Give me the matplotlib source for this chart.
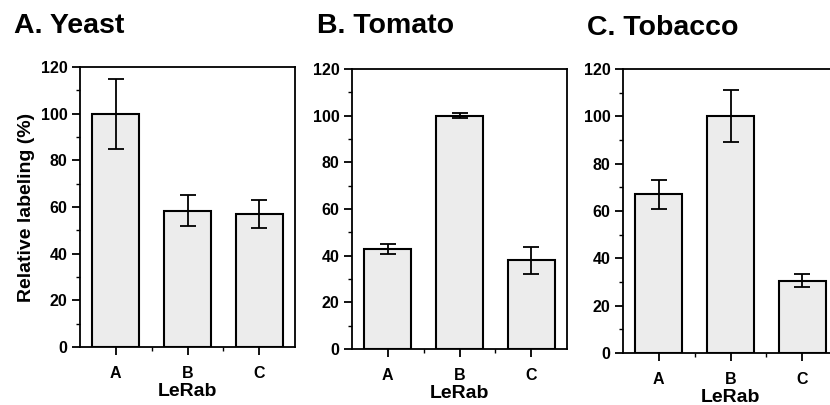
import matplotlib
matplotlib.use("Agg")
import matplotlib.pyplot as plt
from matplotlib.ticker import MultipleLocator, FixedLocator

plt.rcParams['font.family'] = ['Liberation Sans', 'DejaVu Sans']
plt.rcParams['font.weight'] = 'bold'

# data
categories = ["A", "B", "C"]
titles = ["A. Yeast", "B. Tomato", "C. Tobacco"]
yeast = [100, 58.5, 57]
yeast_err = [15, 6.5, 6]
tomato = [43, 100, 38]
tomato_err = [2.2, 1, 5.8]
tobacco = [67, 100, 30.5]
tobacco_err = [6, 11, 2.7]

values = [yeast, tomato, tobacco]
errors = [yeast_err, tomato_err, tobacco_err]

W, H = 830, 405
fig = plt.figure(figsize=(W / 100, H / 100), dpi=100)

# axes boxes in pixels: left, top, bottom
boxes = [(80, 67, 347), (352, 69, 349), (623, 69, 353)]
title_pos = [(14, 33), (317, 33), (587, 35)]
width_px = 215

x = list(range(len(categories)))

for i in range(3):
    l, t, b = boxes[i]
    ax = fig.add_axes([l / W, (H - b) / H, width_px / W, (b - t) / H])
    ax.bar(x, values[i], width=0.66, color='#ececec', edgecolor='black',
           linewidth=1.5, zorder=2)
    ax.errorbar(x, values[i], yerr=errors[i], fmt='none', ecolor='black',
                elinewidth=1.3, capsize=6, capthick=1.3, zorder=3)
    ax.set_xlim(-0.5, 2.5)
    ax.set_ylim(0, 120)
    ax.set_xticks(x)
    ax.set_xticklabels(categories, fontsize=10, fontweight='bold')
    ax.xaxis.set_minor_locator(FixedLocator([0.5, 1.5]))
    ax.yaxis.set_major_locator(MultipleLocator(20))
    ax.yaxis.set_minor_locator(MultipleLocator(10))
    ax.tick_params(axis='both', which='major', direction='out', length=6,
                   width=1.3, labelsize=11.5, pad=3)
    ax.tick_params(axis='both', which='minor', direction='out', length=3,
                   width=1.0)
    ax.tick_params(axis='x', which='major', pad=8)
    for lab in ax.get_yticklabels():
        lab.set_fontweight('bold')
    for s in ax.spines.values():
        s.set_linewidth(1.3)
    ax.set_xlabel("LeRab", fontsize=14, fontweight='bold', labelpad=1)
    if i == 0:
        ax.set_ylabel("Relative labeling (%)", fontsize=14, fontweight='bold',
                      labelpad=4)
    tx, ty = title_pos[i]
    fig.text(tx / W, (H - ty) / H, titles[i], fontsize=20.5, fontweight='bold',
             va='baseline', ha='left')

fig.savefig("out.png", dpi=100)
